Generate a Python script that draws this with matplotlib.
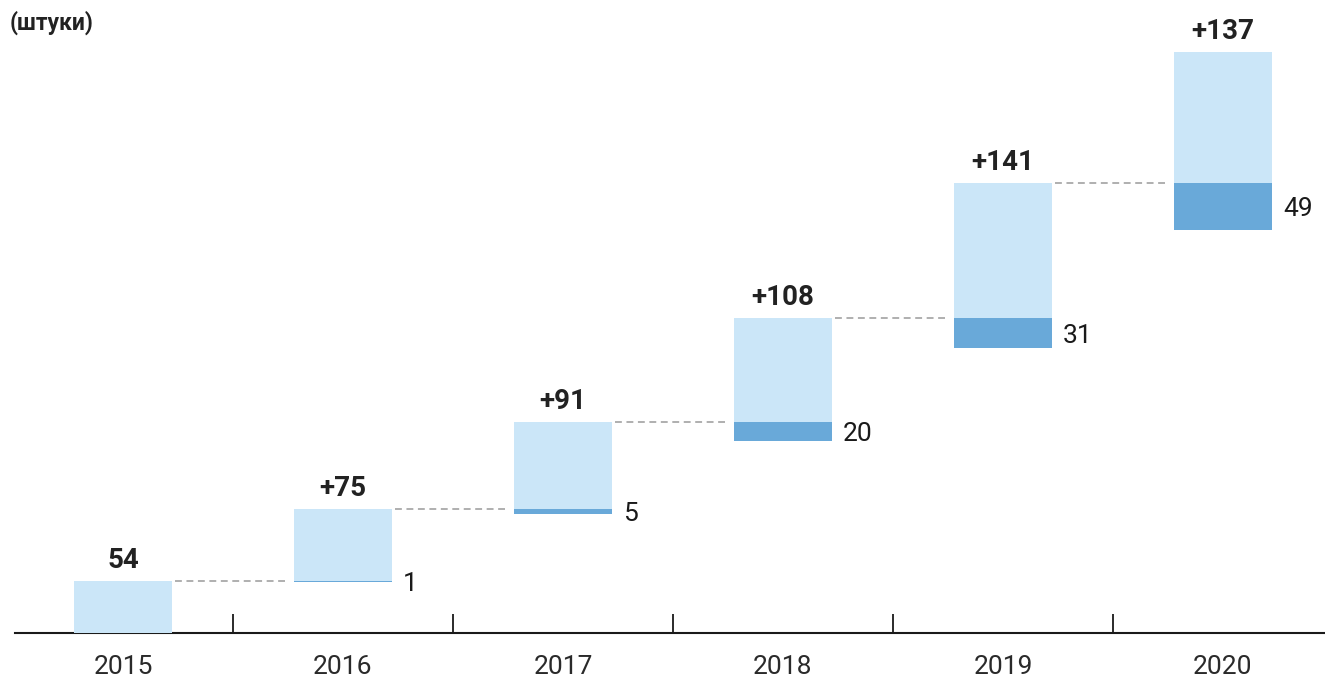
import matplotlib
matplotlib.use("Agg")
import matplotlib.pyplot as plt
import numpy as np

plt.rcParams["font.family"] = ["Roboto", "DejaVu Sans"]

years = ["2015", "2016", "2017", "2018", "2019", "2020"]
added = [54, 75, 91, 108, 141, 137]
removed = [0, 1, 5, 20, 31, 49]
top_labels = ["54", "+75", "+91", "+108", "+141", "+137"]

light = "#CBE6F8"
dark = "#69A9D9"

bottoms = np.concatenate([[0], np.cumsum(added)[:-1]])
tops = bottoms + np.array(added)
x = np.arange(len(years))
w = 0.445

fig = plt.figure(figsize=(13.25, 6.82), dpi=100)
ax = fig.add_axes([15 / 1325, 1 - 633 / 682, 1 - 15 / 1325, 633 / 682])

ax.bar(x, added, bottom=bottoms, width=w, color=light, zorder=3)
for i in range(1, len(years)):
    if removed[i] > 0:
        ax.bar(x[i], removed[i], bottom=bottoms[i] - removed[i], width=w, color=dark, zorder=3)
        ax.annotate(str(removed[i]), (x[i] + w / 2, bottoms[i] - removed[i] / 2),
                    xytext=(8, -2), textcoords="offset points", ha="left", va="center",
                    fontsize=19, color="#1a1a1a")
    # dashed connector from previous bar top
    ax.plot([x[i - 1] + w / 2 + 0.014, x[i] - w / 2 - 0.022], [tops[i - 1], tops[i - 1]],
            color="#9a9a9a", lw=1.1, ls=(0, (4.5, 3)), zorder=2)

for i in range(len(years)):
    ax.annotate(top_labels[i], (x[i], tops[i]), xytext=(0, 5), textcoords="offset points",
                ha="center", va="bottom", fontsize=20, fontweight="bold", color="#222222")

ax.set_xlim(-0.491, 5.464)
ax.set_ylim(0, 660)

for s in ["top", "right", "left"]:
    ax.spines[s].set_visible(False)
ax.spines["bottom"].set_color("#1a1a1a")
ax.spines["bottom"].set_linewidth(1.5)
ax.spines["bottom"].set_zorder(1)
ax.set_yticks([])
ax.set_xticks(x)
ax.set_xticklabels(years, fontsize=19, color="#2a2a2a")
ax.set_xticks(x[:-1] + 0.5, minor=True)
ax.tick_params(axis="x", which="major", length=0, pad=16)
ax.tick_params(axis="x", which="minor", direction="in", length=13.5, width=1.3, color="#1a1a1a")

fig.text(10 / 1325, 1 - 23 / 682, "(штуки)", fontsize=16.5, fontweight="bold",
         color="#222222", ha="left", va="center")

fig.savefig("out.png", dpi=100)
